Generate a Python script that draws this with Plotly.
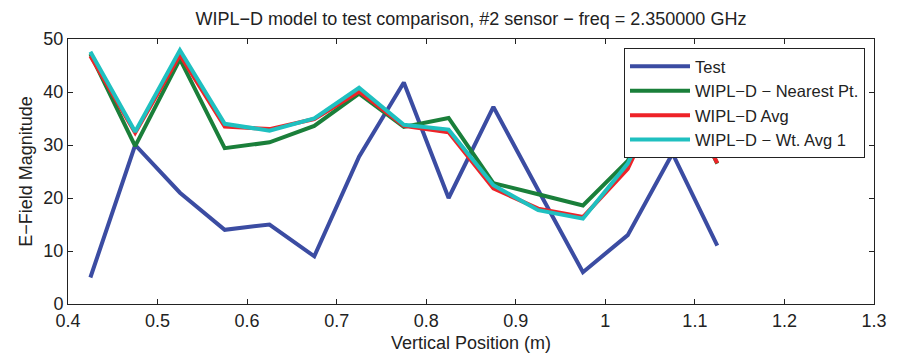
import plotly.graph_objects as go

positions = [0.425, 0.475, 0.525, 0.575, 0.625, 0.675, 0.725, 0.775,
             0.825, 0.875, 0.925, 0.975, 1.025, 1.075, 1.125]
test = [5.0, 30.0, 21.0, 14.0, 15.0, 9.0, 27.8, 41.8, 20.0, 37.2, 21.5, 6.0, 13.0, 28.4, 11.0]
nearest = [47.2, 29.8, 46.2, 29.4, 30.5, 33.6, 39.7, 33.4, 35.1, 22.8, 20.7, 18.6, 27.0, 44.0, 26.5]
avg = [46.8, 32.3, 47.0, 33.5, 33.0, 34.9, 40.1, 33.6, 32.4, 21.8, 18.0, 16.4, 25.5, 43.5, 26.6]
wtavg = [47.6, 32.5, 47.9, 34.0, 32.7, 35.0, 40.8, 33.8, 32.9, 22.4, 17.7, 16.1, 26.5, 44.0, 27.8]

series = [
    ("Test", test, "#3b4ca2"),
    ("WIPL\u2212D \u2212 Nearest Pt.", nearest, "#1a7f3a"),
    ("WIPL\u2212D Avg", avg, "#ee2328"),
    ("WIPL\u2212D \u2212 Wt. Avg 1", wtavg, "#1fc0c0"),
]

fig = go.Figure()
for name, vals, color in series:
    fig.add_trace(go.Scatter(x=positions, y=vals, mode="lines", name=name,
                             line=dict(color=color, width=4)))

font = dict(family="Liberation Sans, Arial, sans-serif", size=18, color="#222")

fig.update_layout(
    width=903, height=353,
    margin=dict(l=68, r=29, t=39, b=49, pad=0),
    paper_bgcolor="white", plot_bgcolor="white",
    font=font,
    title=dict(text="WIPL\u2212D model to test comparison, #2 sensor \u2212 freq = 2.350000 GHz",
               x=0.5, xref="paper", xanchor="center", y=1, yref="container",
               yanchor="top", pad=dict(t=12), font=dict(size=18)),
    showlegend=True,
    legend=dict(x=1 - 9 / 806, xanchor="right", y=1 - 9 / 264.5, yanchor="top",
                bgcolor="white", bordercolor="#222", borderwidth=1,
                font=dict(size=16.5), tracegroupgap=0, itemwidth=60),
)
fig.update_xaxes(range=[0.4, 1.3], dtick=0.1, tick0=0.4, showgrid=False, zeroline=False,
                 showline=True, mirror="allticks", linecolor="#222", linewidth=1,
                 ticks="inside", ticklen=5, tickcolor="#222", automargin=False,
                 title=dict(text="Vertical Position (m)", standoff=15, font=dict(size=18)))
fig.update_yaxes(range=[0, 50], dtick=10, showgrid=False, zeroline=False,
                 showline=True, mirror="allticks", linecolor="#222", linewidth=1,
                 ticks="inside", ticklen=5, tickcolor="#222", automargin=False,
                 title=dict(text="E\u2212Field Magnitude", standoff=6, font=dict(size=18)))

fig.write_html("out.html")
